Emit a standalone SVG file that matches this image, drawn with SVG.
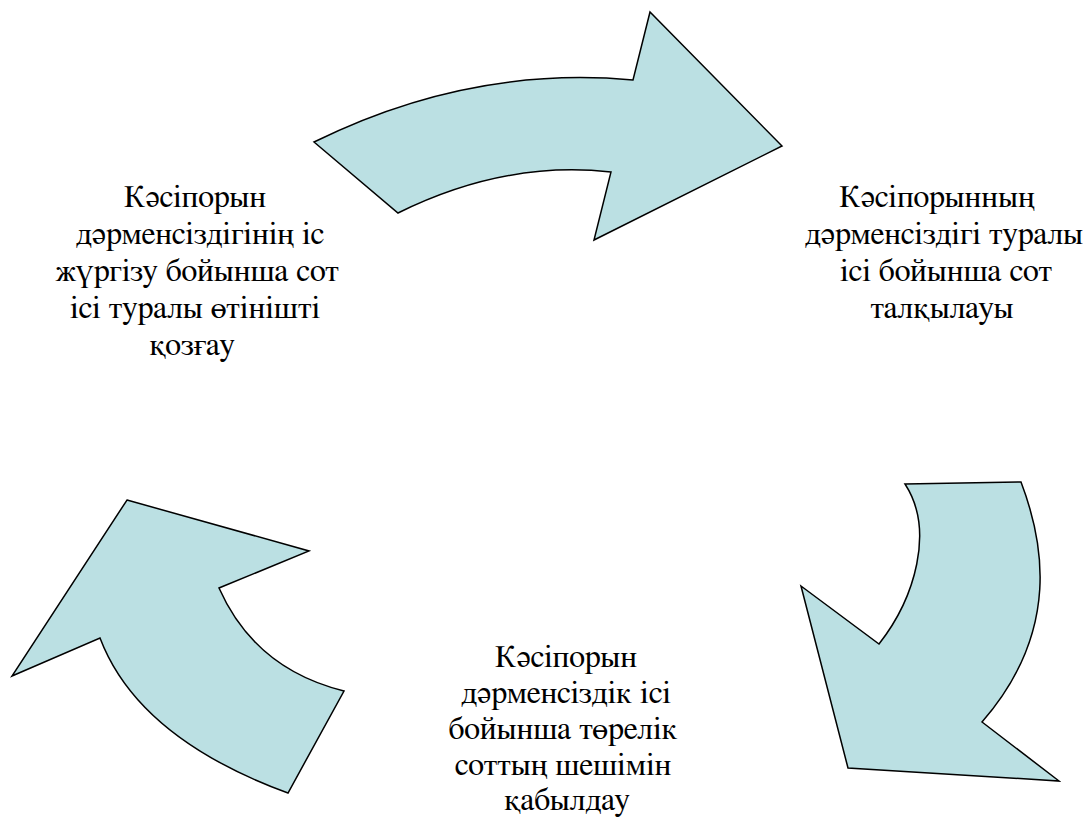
<svg xmlns="http://www.w3.org/2000/svg" width="1083" height="818" viewBox="0 0 1083 818">
<style>
.arrow{fill:#BBE0E3;stroke:#000;stroke-width:1.5;stroke-linejoin:miter}
.t{font-family:"FreeSerif","Noto Serif CJK SC","DejaVu Serif","Liberation Serif",serif;font-size:32px;fill:#000;text-anchor:middle}
</style>
<rect width="1083" height="818" fill="#fff"/>
<g id="connectors">
<path id="arrow-top" class="arrow" d="M314,142 Q470,65 633,80 L650,12 L782,146 L594,240 L611,172 Q505,160 398,213 Z"/>
<path id="arrow-right" class="arrow" d="M905,484 L1021,482 C1043,540 1062,630 982,722 L1059,781 L848,768 L801,586 L879,644 C915,598 935,530 905,484 Z"/>
<path id="arrow-left" class="arrow" d="M127,500 L309,551 L219,588 Q255,669 344,691 L288,793 Q138,738 100,638 L12,676 Z"/>
</g>
<g id="node-start">
<text class="t" x="195" y="207">Кəсіпорын</text>
<text class="t" x="200" y="244">дəрменсіздігінің іс</text>
<text class="t" x="197" y="281">жүргізу бойынша сот</text>
<text class="t" x="195" y="318">ісі туралы өтінішті</text>
<text class="t" x="192" y="355">қозғау</text>
</g>
<g id="node-hearing">
<text class="t" x="937" y="207">Кəсіпорынның</text>
<text class="t" x="944" y="244">дəрменсіздігі туралы</text>
<text class="t" x="946" y="281">ісі бойынша сот</text>
<text class="t" x="942" y="318">талқылауы</text>
</g>
<g id="node-decision">
<text class="t" x="566" y="667">Кəсіпорын</text>
<text class="t" x="566" y="703">дəрменсіздік ісі</text>
<text class="t" x="563" y="739">бойынша төрелік</text>
<text class="t" x="563" y="775">соттың шешімін</text>
<text class="t" x="567" y="810">қабылдау</text>
</g>
</svg>
